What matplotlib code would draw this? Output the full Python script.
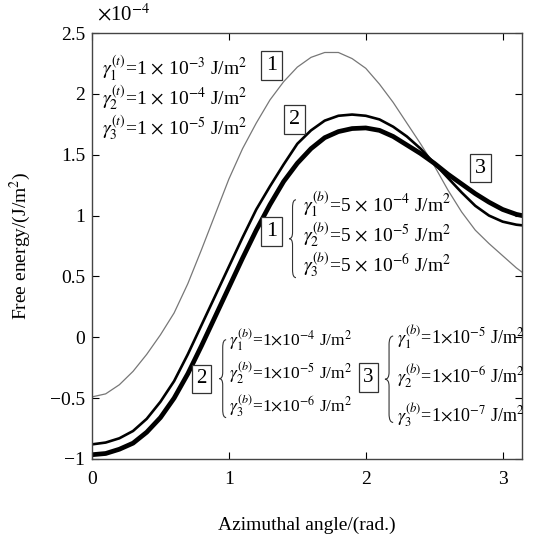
import numpy as np
import matplotlib
matplotlib.use("Agg")
import matplotlib.pyplot as plt
from matplotlib.path import Path
from matplotlib.patches import PathPatch

plt.rcParams['font.family'] = ['Liberation Serif', 'DejaVu Serif']
plt.rcParams['mathtext.fontset'] = 'stix'

# azimuthal angle (rad) and free energy (x 1e-4 J/m^2)
angle = [0.0, 0.1, 0.2, 0.3, 0.4, 0.5, 0.6, 0.7, 0.8, 0.9, 1.0, 1.1, 1.2, 1.3, 1.4, 1.5,
         1.6, 1.7, 1.8, 1.9, 2.0, 2.1, 2.2, 2.3, 2.4, 2.5, 2.6, 2.7, 2.8, 2.9, 3.0, 3.1, 3.1416]
energy_1 = [-0.49, -0.465, -0.39, -0.28, -0.14, 0.02, 0.20, 0.44, 0.72, 1.01, 1.30, 1.55,
            1.76, 1.95, 2.10, 2.22, 2.30, 2.34, 2.34, 2.29, 2.21, 2.08, 1.93, 1.76, 1.59,
            1.41, 1.21, 1.03, 0.88, 0.77, 0.67, 0.57, 0.535]
energy_2 = [-0.88, -0.865, -0.83, -0.77, -0.67, -0.53, -0.36, -0.14, 0.10, 0.34, 0.58, 0.82,
            1.05, 1.24, 1.42, 1.59, 1.70, 1.78, 1.82, 1.83, 1.82, 1.79, 1.73, 1.65, 1.55,
            1.43, 1.31, 1.19, 1.08, 1.00, 0.95, 0.925, 0.92]
energy_3 = [-0.965, -0.955, -0.92, -0.87, -0.78, -0.66, -0.50, -0.30, -0.07, 0.17, 0.41, 0.65,
            0.88, 1.09, 1.28, 1.43, 1.55, 1.64, 1.69, 1.715, 1.72, 1.70, 1.65, 1.58, 1.51,
            1.43, 1.34, 1.26, 1.18, 1.11, 1.05, 1.01, 1.00]

y_ticks = [-1, -0.5, 0, 0.5, 1, 1.5, 2, 2.5]
y_ticklabels = ['\u22121', '\u22120.5', '0', '0.5', '1', '1.5', '2', '2.5']
x_ticks = [0, 1, 2, 3]

top_lines = [r'$\gamma_1^{(t)}$=1$\,\times\,$10$^{-3}$ J/m$^2$',
             r'$\gamma_2^{(t)}$=1$\,\times\,$10$^{-4}$ J/m$^2$',
             r'$\gamma_3^{(t)}$=1$\,\times\,$10$^{-5}$ J/m$^2$']
mid_lines = [r'$\gamma_1^{(b)}$=5$\,\times\,$10$^{-4}$ J/m$^2$',
             r'$\gamma_2^{(b)}$=5$\,\times\,$10$^{-5}$ J/m$^2$',
             r'$\gamma_3^{(b)}$=5$\,\times\,$10$^{-6}$ J/m$^2$']
low2_lines = [r'$\gamma_1^{(b)}$=1$\times$10$^{-4}$ J/m$^2$',
              r'$\gamma_2^{(b)}$=1$\times$10$^{-5}$ J/m$^2$',
              r'$\gamma_3^{(b)}$=1$\times$10$^{-6}$ J/m$^2$']
low3_lines = [r'$\gamma_1^{(b)}$=1$\times$10$^{-5}$ J/m$^2$',
              r'$\gamma_2^{(b)}$=1$\times$10$^{-6}$ J/m$^2$',
              r'$\gamma_3^{(b)}$=1$\times$10$^{-7}$ J/m$^2$']


def brace(ax, x, y0, y1, w=0.05):
    ym = (y0 + y1) / 2
    h = y1 - y0
    verts = [(x + w, y1), (x + w / 2, y1), (x + w / 2, y1 - 0.1 * h),
             (x + w / 2, ym + 0.08 * h),
             (x + w / 2, ym), (x, ym),
             (x + w / 2, ym), (x + w / 2, ym - 0.08 * h),
             (x + w / 2, y0 + 0.1 * h),
             (x + w / 2, y0), (x + w, y0)]
    codes = [Path.MOVETO, Path.CURVE3, Path.CURVE3, Path.LINETO,
             Path.CURVE3, Path.CURVE3, Path.CURVE3, Path.CURVE3,
             Path.LINETO, Path.CURVE3, Path.CURVE3]
    ax.add_patch(PathPatch(Path(verts, codes), fill=False, lw=0.8, color='#333333'))


def boxed(ax, x, y, s, fs=16):
    ax.text(x, y, s, fontsize=fs, ha='center', va='center',
            bbox=dict(boxstyle='square,pad=0.22', fc='white', ec='#333333', lw=0.9))


fig = plt.figure(figsize=(5.36, 5.36), dpi=100)
ax = fig.add_axes([0.1716, 0.1437, 0.8024, 0.7947])

ax.plot(angle, energy_1, color='#777777', lw=0.9)
ax.plot(angle, energy_2, color='black', lw=1.9)
ax.plot(angle, energy_3, color='black', lw=3.4)

ax.set_xlim(0, np.pi)
ax.set_ylim(-1, 2.5)
ax.set_xticks(x_ticks)
ax.set_yticks(y_ticks)
ax.set_yticklabels(y_ticklabels)
ax.tick_params(direction='in', top=True, right=True, labelsize=14, length=5, width=0.8, pad=5)
ax.tick_params(axis='x', pad=9)
for sp in ax.spines.values():
    sp.set_linewidth(1.0)
    sp.set_color('#444444')

ax.set_xlabel('Azimuthal angle/(rad.)', fontsize=14, labelpad=20)
ax.set_ylabel('Free energy/(J/m$^2$)', fontsize=14, labelpad=12)
ax.text(0.04, 2.56, r'$\times$10$^{-4}$', fontsize=15, ha='left', va='bottom')

for i, s in enumerate(top_lines):
    ax.text(0.07, 2.21 - 0.245 * i, s, fontsize=14, ha='left', va='center')
boxed(ax, 1.31, 2.23, '1')
boxed(ax, 1.48, 1.79, '2')
boxed(ax, 2.84, 1.39, '3')

boxed(ax, 1.31, 0.87, '1')
brace(ax, 1.44, 0.49, 1.13)
for i, s in enumerate(mid_lines):
    ax.text(1.54, 1.09 - 0.245 * i, s, fontsize=14, ha='left', va='center')

boxed(ax, 0.80, -0.34, '2', fs=15)
brace(ax, 0.93, -0.66, -0.02)
for i, s in enumerate(low2_lines):
    ax.text(1.0, -0.02 - 0.27 * i, s, fontsize=12.5, ha='left', va='center')

boxed(ax, 2.02, -0.33, '3', fs=15)
brace(ax, 2.14, -0.70, 0.01, w=0.06)
for i, s in enumerate(low3_lines):
    ax.text(2.23, 0.0 - 0.32 * i, s, fontsize=13, ha='left', va='center')

fig.savefig('out.png', dpi=100)
